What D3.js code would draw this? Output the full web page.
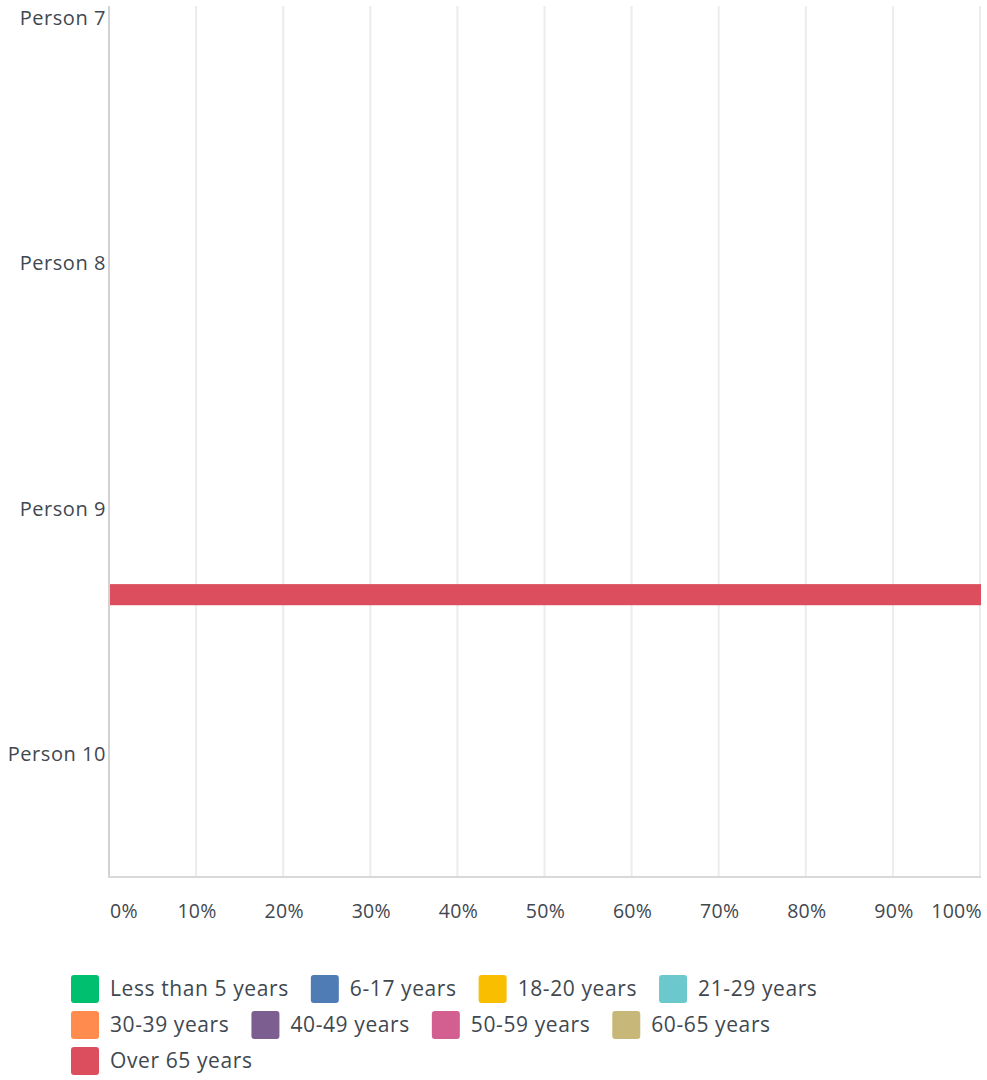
<!DOCTYPE html>
<html lang="en">

<head>
  <meta charset="UTF-8">
  <title>Age groups by person</title>
  <script src="https://d3js.org/d3.v7.min.js"></script>
  <style>
    body { margin: 0; background: #fff; }
    text { font-family: "Open Sans", sans-serif; fill: #3f4850; letter-spacing: 0.3px; }
  </style>
</head>

<body>
  <script>
    const persons = ['Person 7', 'Person 8', 'Person 9', 'Person 10'];

    const ageGroups = ['Less than 5 years', '6-17 years', '18-20 years', '21-29 years',
      '30-39 years', '40-49 years', '50-59 years', '60-65 years', 'Over 65 years'];

    // percent of answers per age group, one array per person
    const person7 = [0, 0, 0, 0, 0, 0, 0, 0, 0];
    const person8 = [0, 0, 0, 0, 0, 0, 0, 0, 0];
    const person9 = [0, 0, 0, 0, 0, 0, 0, 0, 100];
    const person10 = [0, 0, 0, 0, 0, 0, 0, 0, 0];

    const tickValues = [0, 10, 20, 30, 40, 50, 60, 70, 80, 90, 100];

    const colors = ['#00bf6f', '#507cb6', '#f9be00', '#6bc8cd', '#ff8b4f',
      '#7d5e90', '#d25f90', '#c7b879', '#dc4e5e'];

    const w = 987;
    const h = 1080;
    const plotLeft = 110, plotRight = 981, plotTop = 6, plotBottom = 877;

    const rows = [person7, person8, person9, person10].map((vals, i) => {
      const r = { person: persons[i] };
      ageGroups.forEach((g, j) => r[g] = vals[j]);
      return r;
    });

    const x = d3.scaleLinear().domain([0, 100]).range([plotLeft, plotRight]);

    // the view is a cropped part of a taller chart, so the first band starts above the top
    const y = d3.scaleBand().domain(persons).range([-105, plotBottom]).padding(0);
    // where the bar sits inside each band (fractions of the band)
    const barY = d3.scaleLinear().domain([0, 1]).range([0, y.bandwidth()]);

    const color = d3.scaleOrdinal().domain(ageGroups).range(colors);

    const svg = d3.select('body')
      .append('svg')
      .attr('width', w)
      .attr('height', h);

    // grid
    svg.append('g')
      .selectAll('line')
      .data(tickValues.slice(1))
      .enter()
      .append('line')
      .attr('x1', d => x(d) - 1)
      .attr('x2', d => x(d) - 1)
      .attr('y1', plotTop)
      .attr('y2', plotBottom)
      .attr('stroke', '#ececec')
      .attr('stroke-width', 2);

    // bars
    const stack = d3.stack().keys(ageGroups)(rows);
    svg.append('g')
      .selectAll('g')
      .data(stack)
      .enter()
      .append('g')
      .attr('fill', d => color(d.key))
      .selectAll('rect')
      .data(d => d)
      .enter()
      .append('rect')
      .attr('x', d => x(d[0]))
      .attr('width', d => x(d[1]) - x(d[0]))
      .attr('y', d => y(d.data.person) + barY(0.807))
      .attr('height', barY(0.086));

    // axis lines
    svg.append('line')
      .attr('x1', plotLeft - 1).attr('x2', plotLeft - 1)
      .attr('y1', plotTop).attr('y2', plotBottom + 1)
      .attr('stroke', '#d2d2d2').attr('stroke-width', 2);
    svg.append('line')
      .attr('x1', plotLeft - 2).attr('x2', plotRight)
      .attr('y1', plotBottom).attr('y2', plotBottom)
      .attr('stroke', '#d9d9d9').attr('stroke-width', 2);

    // category labels
    svg.append('g')
      .selectAll('text')
      .data(persons)
      .enter()
      .append('text')
      .text(d => d)
      .attr('x', plotLeft - 4)
      .attr('y', d => y(d) + y.bandwidth() / 2)
      .attr('dy', '0.35em')
      .attr('text-anchor', 'end')
      .style('font-size', '20px')
      .style('letter-spacing', '0.55px');

    // x tick labels
    svg.append('g')
      .selectAll('text')
      .data(tickValues)
      .enter()
      .append('text')
      .text(d => d + '%')
      .attr('x', d => d === 100 ? x(d) + 1 : x(d))
      .attr('y', 911)
      .attr('dy', '0.35em')
      .attr('text-anchor', d => d === 0 ? 'start' : d === 100 ? 'end' : 'middle')
      .style('font-size', '19.5px');

    // legend, wraps like a flowing list
    const legend = svg.append('g');
    let lx = 71, ly = 989;
    const maxX = 960;
    ageGroups.forEach(g => {
      const item = legend.append('g');
      item.append('rect')
        .attr('width', 28).attr('height', 28)
        .attr('rx', 3)
        .attr('fill', color(g));
      const t = item.append('text')
        .text(g)
        .attr('x', 39)
        .attr('y', 14)
        .attr('dy', '0.35em')
        .style('font-size', '21px')
        .style('letter-spacing', '0.6px');
      const itemW = 39 + t.node().getComputedTextLength();
      if (lx + itemW > maxX) {
        lx = 71;
        ly += 36;
      }
      item.attr('transform', `translate(${lx},${ly - 14})`);
      lx += itemW + 22;
    });
  </script>
</body>

</html>
